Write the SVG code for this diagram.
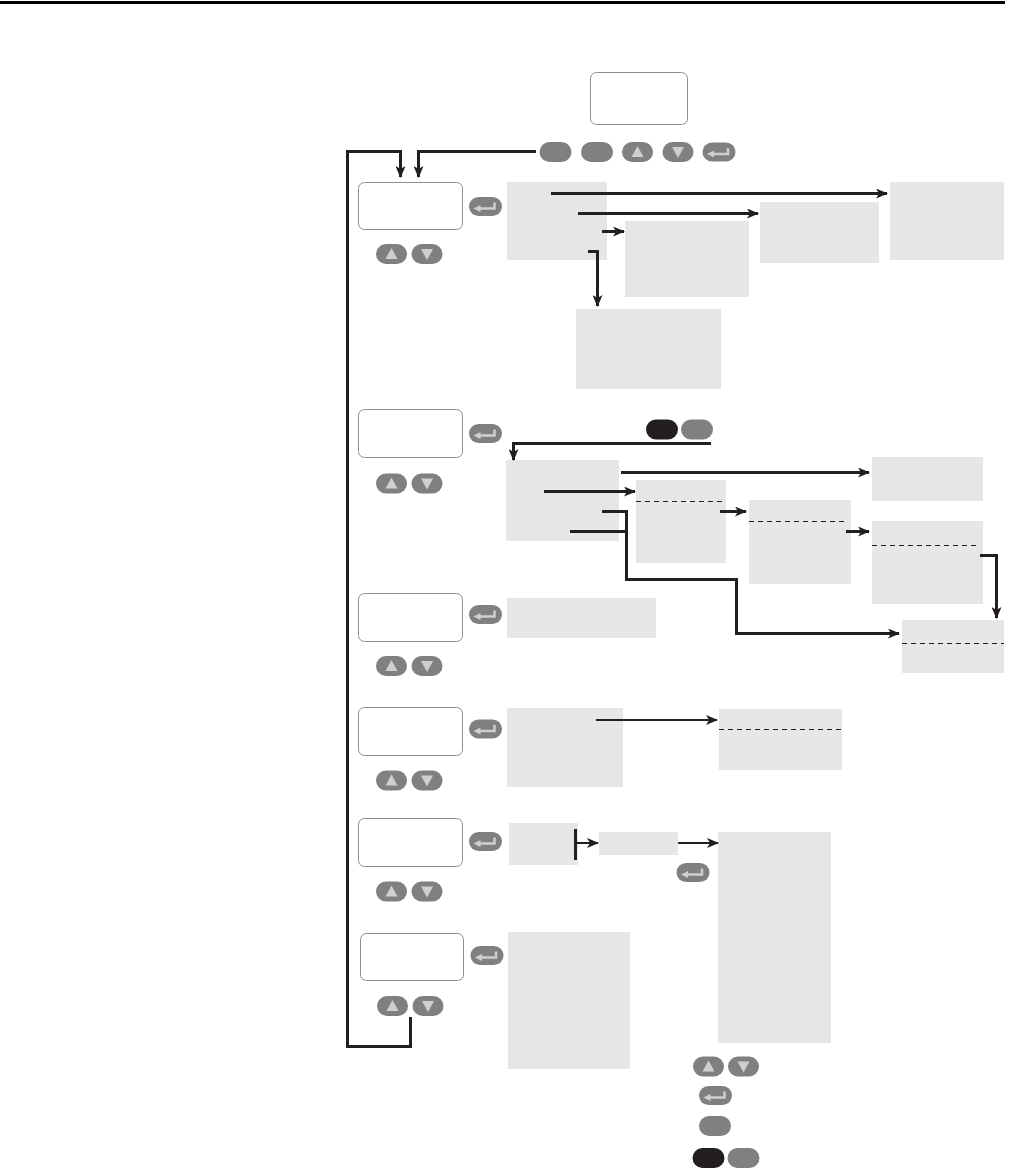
<svg xmlns="http://www.w3.org/2000/svg" xmlns:xlink="http://www.w3.org/1999/xlink" width="1009" height="1168" viewBox="0 0 1009 1168">
<style>
.disp{fill:#fff;stroke:#8c8c8c;stroke-width:1}
.box{fill:#e6e6e6}
.btn{fill:#808080}
.blk{fill:#231f20}
.gly{fill:#cfcfcf}
.con{fill:none;stroke:#231f20;stroke-width:3}
.thin{fill:none;stroke:#231f20;stroke-width:2}
.dash{fill:none;stroke:#231f20;stroke-width:1;stroke-dasharray:5 4}
</style>
<defs>
<marker id="ah" markerUnits="userSpaceOnUse" markerWidth="12" markerHeight="10" viewBox="0 0 12 10" refX="11" refY="5" orient="auto">
<path d="M0,0 L12,5 L0,10 L3,5 Z" fill="#231f20"/>
</marker>
<g id="enter"><rect x="-16.5" y="-9.5" width="33" height="19" rx="9.5" class="btn"/><path d="M9,-4 V2 H-6" fill="none" stroke="#cfcfcf" stroke-width="2.5"/><path d="M-12,2 L-5,-1.5 L-5,5.5 Z" class="gly"/></g>
<g id="up"><rect x="-15.5" y="-10" width="31" height="20" rx="10" class="btn"/><path d="M0,-6 L6,5 L-6,5 Z" class="gly"/></g>
<g id="down"><rect x="-15.5" y="-10" width="31" height="20" rx="10" class="btn"/><path d="M0,6 L6,-5 L-6,-5 Z" class="gly"/></g>
<g id="plain"><rect x="-16" y="-10" width="32" height="20" rx="10" class="btn"/></g>
<g id="black"><rect x="-16" y="-10" width="32" height="20" rx="10" class="blk"/></g>
</defs>
<rect x="0" y="1" width="1005" height="3" fill="#000"/>

<g id="top-display"><rect class="disp" x="590.5" y="72.5" width="97" height="52" rx="6"/></g>
<g id="top-buttons">
<use href="#plain" x="555.5" y="152"/><use href="#plain" x="597" y="152"/><use href="#up" x="637.5" y="152"/><use href="#down" x="678" y="152"/><use href="#enter" x="719" y="152"/>
</g>

<g id="menu1"><rect class="disp" x="358.5" y="182.5" width="104" height="47" rx="6"/><use href="#enter" x="485.5" y="206.5"/><use href="#up" x="391.5" y="254"/><use href="#down" x="427" y="254"/></g>
<g id="m1-list"><rect class="box" x="507" y="182" width="100" height="78"/></g>
<g id="m1-a"><rect class="box" x="890" y="182" width="114" height="78"/></g>
<g id="m1-b"><rect class="box" x="760" y="202" width="119" height="61"/></g>
<g id="m1-c"><rect class="box" x="625" y="221" width="124" height="76"/></g>
<g id="m1-d"><rect class="box" x="576" y="309" width="145" height="80"/></g>

<g id="menu2"><rect class="disp" x="358.5" y="409.5" width="104" height="48" rx="6"/><use href="#enter" x="485.5" y="433.5"/><use href="#up" x="391.5" y="483.5"/><use href="#down" x="427" y="483.5"/><use href="#black" x="662" y="429.5"/><use href="#plain" x="697" y="429.5"/></g>
<g id="m2-list"><rect class="box" x="506" y="460" width="113" height="81"/></g>
<g id="m2-a"><rect class="box" x="872" y="457" width="111" height="44"/></g>
<g id="m2-b"><rect class="box" x="636" y="480" width="90" height="83"/><path class="dash" d="M636,501.5 H726"/></g>
<g id="m2-c"><rect class="box" x="749" y="500" width="102" height="84"/><path class="dash" d="M749,521.5 H848"/></g>
<g id="m2-d"><rect class="box" x="872" y="521" width="111" height="83"/><path class="dash" d="M872,545.5 H980"/></g>
<g id="m2-e"><rect class="box" x="902" y="620" width="102" height="53"/><path class="dash" d="M902,643.5 H1004"/></g>

<g id="menu3"><rect class="disp" x="358.5" y="593.5" width="104" height="48" rx="6"/><use href="#enter" x="485.5" y="614.5"/><use href="#up" x="391.5" y="666"/><use href="#down" x="427" y="666"/></g>
<g id="m3-list"><rect class="box" x="507" y="598" width="149" height="40"/></g>

<g id="menu4"><rect class="disp" x="358.5" y="707.5" width="104" height="48" rx="6"/><use href="#enter" x="485.5" y="729"/><use href="#up" x="391.5" y="780.5"/><use href="#down" x="427" y="780.5"/></g>
<g id="m4-list"><rect class="box" x="507" y="708" width="116" height="79"/></g>
<g id="m4-a"><rect class="box" x="719" y="709" width="123" height="61"/><path class="dash" d="M719,729.5 H842"/></g>

<g id="menu5"><rect class="disp" x="358.5" y="818.5" width="104" height="48" rx="6"/><use href="#enter" x="485.5" y="841.5"/><use href="#up" x="391.5" y="891.5"/><use href="#down" x="427" y="891.5"/></g>
<g id="m5-list"><rect class="box" x="509" y="823" width="69" height="42"/></g>
<g id="m5-a"><rect class="box" x="599" y="832" width="79" height="23"/><use href="#enter" x="693" y="872.5"/></g>
<g id="m5-b"><rect class="box" x="718" y="832" width="113" height="211"/></g>

<g id="menu6"><rect class="disp" x="360.5" y="933.5" width="103" height="47" rx="6"/><use href="#enter" x="487" y="955.5"/><use href="#up" x="392.5" y="1006"/><use href="#down" x="428" y="1006"/></g>
<g id="m6-list"><rect class="box" x="508" y="932" width="122" height="137"/></g>

<g id="legend">
<use href="#up" x="708.5" y="1066.5"/><use href="#down" x="743.5" y="1066.5"/>
<use href="#enter" x="715.5" y="1095.5"/>
<use href="#plain" x="715" y="1126"/>
<use href="#black" x="708.5" y="1158"/><use href="#plain" x="743.5" y="1158"/>
</g>

<g id="connectors">
<path class="con" d="M536,151.5 H418.5 V177" marker-end="url(#ah)"/>
<path class="con" d="M410.5,1017 V1046.5 H347.5 V151.5 H400.5 V177" marker-end="url(#ah)"/>
<path class="con" d="M551,193.5 H887" marker-end="url(#ah)"/>
<path class="con" d="M578,213.5 H758" marker-end="url(#ah)"/>
<path class="con" d="M602,231.5 H624" marker-end="url(#ah)"/>
<path class="con" d="M588,251.5 H597.5 V306" marker-end="url(#ah)"/>
<path class="con" d="M711,443.5 H513.5 V460" marker-end="url(#ah)"/>
<path class="con" d="M621,472.5 H869" marker-end="url(#ah)"/>
<path class="con" d="M544,491.5 H635" marker-end="url(#ah)"/>
<path class="con" d="M720,511.5 H746" marker-end="url(#ah)"/>
<path class="con" d="M846,531.5 H869" marker-end="url(#ah)"/>
<path class="con" d="M980,555.5 H996.5 V618" marker-end="url(#ah)"/>
<path class="con" d="M602,511.5 H626.5 V579.5 H736.5 V633.5 H899" marker-end="url(#ah)"/>
<path class="con" d="M570,531.5 H626"/>
<path class="thin" d="M596,720 H717" marker-end="url(#ah)"/>
<path class="con" d="M575.5,829 V860"/>
<path class="thin" d="M575,843 H598" marker-end="url(#ah)"/>
<path class="thin" d="M678,843 H718" marker-end="url(#ah)"/>
</g>
</svg>
